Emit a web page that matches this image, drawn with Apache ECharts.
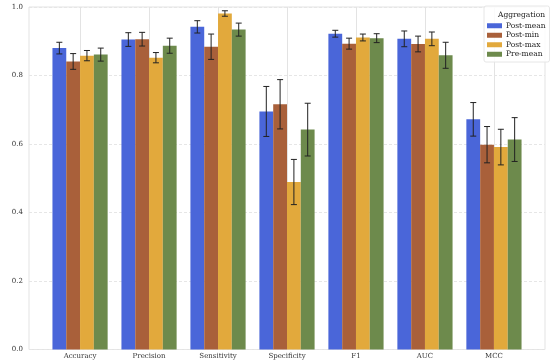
<!DOCTYPE html>
<html>
<head>
<meta charset="utf-8">
<script src="https://cdn.jsdelivr.net/npm/echarts@6/dist/echarts.min.js"></script>
<style>html,body{margin:0;padding:0;background:#fff}#c{width:550px;height:362px}</style>
</head>
<body>
<div id="c"></div>
<script>
const categories = ['Accuracy', 'Precision', 'Sensitivity', 'Specificity', 'F1', 'AUC', 'MCC'];
const seriesNames = ['Post-mean', 'Post-min', 'Post-max', 'Pre-mean'];
const postMean    = [0.880, 0.905, 0.942, 0.695, 0.922, 0.907, 0.672];
const postMeanErr = [0.017, 0.020, 0.018, 0.073, 0.010, 0.023, 0.049];
const postMin     = [0.841, 0.906, 0.884, 0.716, 0.893, 0.892, 0.598];
const postMinErr  = [0.023, 0.020, 0.037, 0.072, 0.016, 0.023, 0.053];
const postMax     = [0.858, 0.852, 0.981, 0.489, 0.911, 0.907, 0.591];
const postMaxErr  = [0.015, 0.015, 0.008, 0.066, 0.010, 0.020, 0.052];
const preMean     = [0.861, 0.887, 0.934, 0.642, 0.909, 0.859, 0.613];
const preMeanErr  = [0.019, 0.022, 0.019, 0.077, 0.013, 0.038, 0.064];
const yTicks = [0, 0.2, 0.4, 0.6, 0.8, 1.0];

const colors = ['#4a66d9', '#a9603a', '#e2a93c', '#6d8a4c'];
const values = [postMean, postMin, postMax, preMean];
const errors = [postMeanErr, postMinErr, postMaxErr, preMeanErr];
const font = 'DejaVu Serif';

const series = [];
values.forEach((vals, i) => {
  series.push({
    name: seriesNames[i], type: 'custom', z: 2,
    itemStyle: { color: colors[i] },
    encode: { x: 0, y: 1 },
    data: vals.map((v, k) => [k, v]),
    renderItem: function (params, api) {
      const x = api.value(0), v = api.value(1);
      const bw = api.size([0.2, 0])[0];
      const p0 = api.coord([x, 0]);
      const p1 = api.coord([x, v]);
      const left = p0[0] + (i - 2) * bw;
      return { type: 'rect', shape: { x: left, y: p1[1], width: bw, height: p0[1] - p1[1] },
        style: { fill: colors[i] } };
    }
  });
});
values.forEach((vals, i) => {
  series.push({
    type: 'custom', z: 5, silent: true,
    encode: { x: 0, y: 1 },
    data: vals.map((v, k) => [k, v, errors[i][k]]),
    renderItem: function (params, api) {
      const x = api.value(0), v = api.value(1), e = api.value(2);
      const bw = api.size([0.2, 0])[0];
      const cx = api.coord([x, v])[0] + (i - 1.5) * bw;
      const yTop = api.coord([x, v + e])[1];
      const yBot = api.coord([x, v - e])[1];
      const cap = 3;
      const st = { stroke: '#222', lineWidth: 1 };
      return { type: 'group', children: [
        { type: 'line', shape: { x1: cx, y1: yTop, x2: cx, y2: yBot }, style: st },
        { type: 'line', shape: { x1: cx - cap, y1: yTop, x2: cx + cap, y2: yTop }, style: st },
        { type: 'line', shape: { x1: cx - cap, y1: yBot, x2: cx + cap, y2: yBot }, style: st }
      ]};
    }
  });
});

const chart = echarts.init(document.getElementById('c'));
chart.setOption({
  animation: false,
  backgroundColor: '#fff',
  textStyle: { fontFamily: font },
  grid: { left: 29, right: 5, top: 7, bottom: 12.5, show: true, borderColor: '#e3e3e3', borderWidth: 1,
          containLabel: false, outerBoundsMode: 'none' },
  xAxis: {
    type: 'value', min: -0.74, max: 6.74,
    axisLine: { show: false },
    axisTick: { show: false, customValues: [0, 1, 2, 3, 4, 5, 6] },
    axisLabel: {
      customValues: [0, 1, 2, 3, 4, 5, 6],
      formatter: v => categories[Math.round(v)],
      fontFamily: font, fontSize: 7, color: '#333', margin: 3
    },
    splitLine: { show: true, lineStyle: { color: '#e3e3e3', width: 1 } }
  },
  yAxis: {
    type: 'value', min: 0, max: 1, interval: 0.2,
    name: 'Metric Values', nameLocation: 'middle', nameGap: 20,
    nameTextStyle: { fontFamily: font, fontSize: 7, color: '#222' },
    axisLine: { show: false }, axisTick: { show: false },
    axisLabel: { formatter: v => v.toFixed(1), fontFamily: font, fontSize: 7, color: '#333', margin: 6 },
    splitLine: { show: true, lineStyle: { color: '#e6e6e6', type: [3, 2], width: 1 } }
  },
  legend: {
    data: seriesNames, orient: 'vertical', left: 484, top: 6,
    padding: [15, 4, 3, 3], itemGap: 0, itemWidth: 15, itemHeight: 5, icon: 'rect',
    backgroundColor: 'rgba(255,255,255,0.85)', borderColor: '#e6e6e6', borderWidth: 1, borderRadius: 2,
    textStyle: { fontFamily: font, fontSize: 7.5, color: '#222', lineHeight: 9.5, padding: [0, 0, 0, -1] }
  },
  graphic: [{ type: 'text', left: 498, top: 11, z: 100,
    style: { text: 'Aggregation', font: '7.5px "DejaVu Serif"', fill: '#222' } }],
  series: series
});
</script>
</body>
</html>
